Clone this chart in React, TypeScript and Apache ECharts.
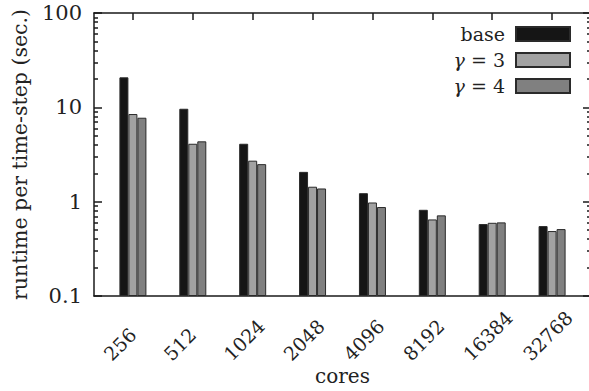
import React, { useEffect, useRef } from 'react';
import * as echarts from 'echarts';

const categories = ['256', '512', '1024', '2048', '4096', '8192', '16384', '32768'];
const baseRuntime = [20.8, 9.66, 4.11, 2.07, 1.23, 0.82, 0.579, 0.551];
const gamma3Runtime = [8.49, 4.11, 2.72, 1.44, 0.98, 0.648, 0.597, 0.488];
const gamma4Runtime = [7.76, 4.36, 2.5, 1.38, 0.877, 0.716, 0.603, 0.512];
const seriesNames = ['base', 'γ = 3', 'γ = 4'];
const yMajorTicks = [0.1, 1, 10, 100];
const yMinorTicks = [
  0.2, 0.3, 0.4, 0.5, 0.6, 0.7, 0.8, 0.9,
  2, 3, 4, 5, 6, 7, 8, 9,
  20, 30, 40, 50, 60, 70, 80, 90,
];

const Y_MIN = 0.1;
const toAxis = (v: number) => Math.log10(v / Y_MIN);
const FONT = 'DejaVu Serif';
const AXIS_COLOR = '#1a1a1a';
const TEXT_COLOR = '#222';
const LABEL_SHIFT = 0.43;

export default function App() {
  const ref = useRef<HTMLDivElement>(null);

  useEffect(() => {
    document.body.style.margin = '0';
    if (!ref.current) return;
    const chart = echarts.init(ref.current, null, { renderer: 'svg' });

    const yMajorVals = yMajorTicks.map(toAxis);
    const yMinorVals = yMinorTicks.map(toAxis);
    const xTickVals = categories.map((_, i) => i);

    const lineStyle = { color: AXIS_COLOR, width: 1.5 };

    const makeSeries = (name: string, values: number[], color: string) => ({
      type: 'bar',
      name,
      xAxisIndex: 0,
      yAxisIndex: 0,
      data: values.map((v, i) => [i, toAxis(v)]),
      barWidth: 9,
      barGap: '0%',
      itemStyle: { color, borderColor: '#2a2a2a', borderWidth: 1 },
    });

    const yBase = {
      type: 'value',
      min: 0,
      max: 3,
      splitLine: { show: false },
    };

    chart.setOption({
      animation: false,
      grid: { left: 94, right: -2, top: 13, bottom: 95, outerBoundsMode: 'none' },
      legend: {
        data: seriesNames,
        orient: 'vertical',
        align: 'right',
        right: 18,
        top: 24,
        padding: 0,
        itemWidth: 54,
        itemHeight: 14,
        itemGap: 6,
        icon: 'rect',
        formatter: (name: string) => name.replace('γ', '{g|γ}'),
        textStyle: {
          fontFamily: FONT,
          fontSize: 19,
          color: TEXT_COLOR,
          lineHeight: 20,
          padding: [0, 6, 0, 0],
          rich: {
            g: { fontFamily: FONT, fontSize: 19, fontStyle: 'italic', color: TEXT_COLOR, lineHeight: 20 },
          },
        },
      },
      xAxis: [
        {
          type: 'value',
          min: -0.65,
          max: 7.65,
          position: 'bottom',
          axisLine: { show: true, onZero: false, lineStyle },
          axisTick: { show: true, inside: true, length: 7, customValues: xTickVals, lineStyle },
          splitLine: { show: false },
          axisLabel: {
            customValues: categories.map((_, i) => i - LABEL_SHIFT),
            formatter: (v: number) => categories[Math.round(v + LABEL_SHIFT)] ?? '',
            rotate: 45,
            align: 'left',
            verticalAlign: 'middle',
            margin: 61,
            fontFamily: FONT,
            fontSize: 19,
            color: TEXT_COLOR,
          },
          name: 'cores',
          nameLocation: 'middle',
          nameGap: 70,
          nameMoveOverlap: false,
          nameTextStyle: { fontFamily: FONT, fontSize: 20, lineHeight: 20, color: TEXT_COLOR },
        },
        {
          type: 'value',
          min: -0.65,
          max: 7.65,
          position: 'top',
          axisLine: { show: true, onZero: false, lineStyle },
          axisTick: { show: true, inside: true, length: 7, customValues: xTickVals, lineStyle },
          splitLine: { show: false },
          axisLabel: { show: false },
        },
      ],
      yAxis: [
        {
          ...yBase,
          interval: 1,
          position: 'left',
          axisLine: { show: true, onZero: false, lineStyle },
          axisTick: { show: true, inside: true, length: 8, customValues: yMajorVals, lineStyle },
          axisLabel: {
            formatter: (v: number) => String(yMajorTicks[Math.round(v)]),
            margin: 12,
            fontFamily: FONT,
            fontSize: 21,
            color: TEXT_COLOR,
          },
          name: 'runtime per time-step (sec.)',
          nameLocation: 'middle',
          nameGap: 64,
          nameMoveOverlap: false,
          nameRotate: 90,
          nameTextStyle: { fontFamily: FONT, fontSize: 20.5, color: TEXT_COLOR },
        },
        {
          ...yBase,
          position: 'left',
          offset: 0,
          axisLine: { show: false, onZero: false },
          axisTick: { show: true, inside: true, length: 4, customValues: yMinorVals, lineStyle },
          axisLabel: { show: false },
        },
        {
          ...yBase,
          interval: 1,
          position: 'right',
          offset: 0,
          axisLine: { show: true, onZero: false, lineStyle },
          axisTick: { show: true, inside: true, length: 8, customValues: yMajorVals, lineStyle },
          axisLabel: { show: false },
        },
        {
          ...yBase,
          position: 'right',
          offset: 0,
          axisLine: { show: false, onZero: false },
          axisTick: { show: true, inside: true, length: 4, customValues: yMinorVals, lineStyle },
          axisLabel: { show: false },
        },
      ],
      series: [
        makeSeries(seriesNames[0], baseRuntime, '#151515'),
        makeSeries(seriesNames[1], gamma3Runtime, '#a2a2a2'),
        makeSeries(seriesNames[2], gamma4Runtime, '#808080'),
      ],
    });

    return () => chart.dispose();
  }, []);

  return (
    <div
      ref={ref}
      style={{ position: 'fixed', left: 0, top: 0, width: 589, height: 391, background: '#fff' }}
    />
  );
}
